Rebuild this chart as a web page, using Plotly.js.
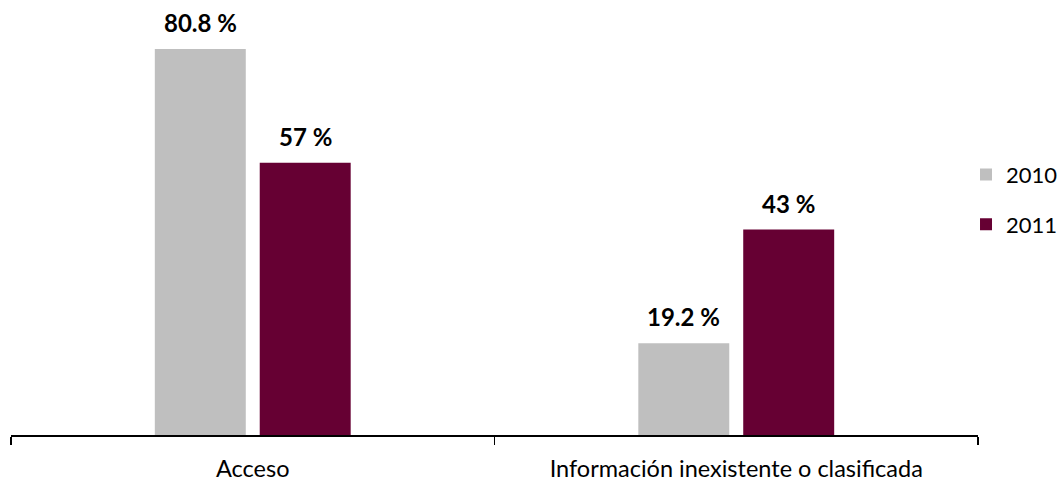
<!DOCTYPE html>
<html>
<head>
<meta charset="utf-8">
<script src="https://cdn.plot.ly/plotly-3.0.1.min.js"></script>
<style>html,body{margin:0;padding:0;background:#fff;}#chart{width:1060px;height:482px;}</style>
</head>
<body>
<div id="chart"></div>
<script>
const categories = ["Acceso", "Información inexistente o clasificada"];
const seriesNames = ["2010", "2011"];
const values2010 = [80.8, 19.2];
const values2011 = [57, 43];
const colors = ["#BFBFBF", "#660033"];

const FONT = "Lato, 'Open Sans', sans-serif";
const seriesValues = [values2010, values2011];

const traces = seriesValues.map((vals, i) => ({
  type: "bar",
  name: seriesNames[i],
  x: categories,
  y: vals,
  marker: {color: colors[i]},
  legendgroup: "g" + i,
  hoverinfo: "none"
}));

const offsets = [-52.5, 52.5];
const annotations = [];
seriesValues.forEach((vals, i) => {
  vals.forEach((v, j) => {
    annotations.push({
      x: categories[j], y: v, xref: "x", yref: "y",
      text: "<b>" + v + " %</b>",
      showarrow: false, xshift: offsets[i], yanchor: "bottom", yshift: 10,
      font: {family: FONT, size: 24, color: "#000"}
    });
  });
});

const layout = {
  width: 1060, height: 482,
  margin: {l: 11, r: 82, t: 5, b: 46.5, autoexpand: false},
  paper_bgcolor: "#fff", plot_bgcolor: "#fff",
  barmode: "group",
  bargap: 0.566,
  bargroupgap: 0.133,
  showlegend: true,
  legend: {
    x: 0.9876, xanchor: "left", y: 0.547, yanchor: "middle",
    font: {family: FONT, size: 22, color: "#000"},
    tracegroupgap: 18, itemwidth: 30
  },
  xaxis: {
    type: "category",
    showline: true, linecolor: "#000", linewidth: 1.5,
    ticks: "outside", tickson: "boundaries", ticklen: 8, tickcolor: "#000", tickwidth: 1.5,
    ticklabelstandoff: 12,
    tickfont: {family: FONT, size: 23.5, color: "#000"},
    showgrid: false, zeroline: false
  },
  yaxis: {
    range: [0, 90], visible: false, showgrid: false, zeroline: false
  },
  annotations: annotations
};

Plotly.newPlot("chart", traces, layout, {displayModeBar: false, staticPlot: true});
</script>
</body>
</html>
